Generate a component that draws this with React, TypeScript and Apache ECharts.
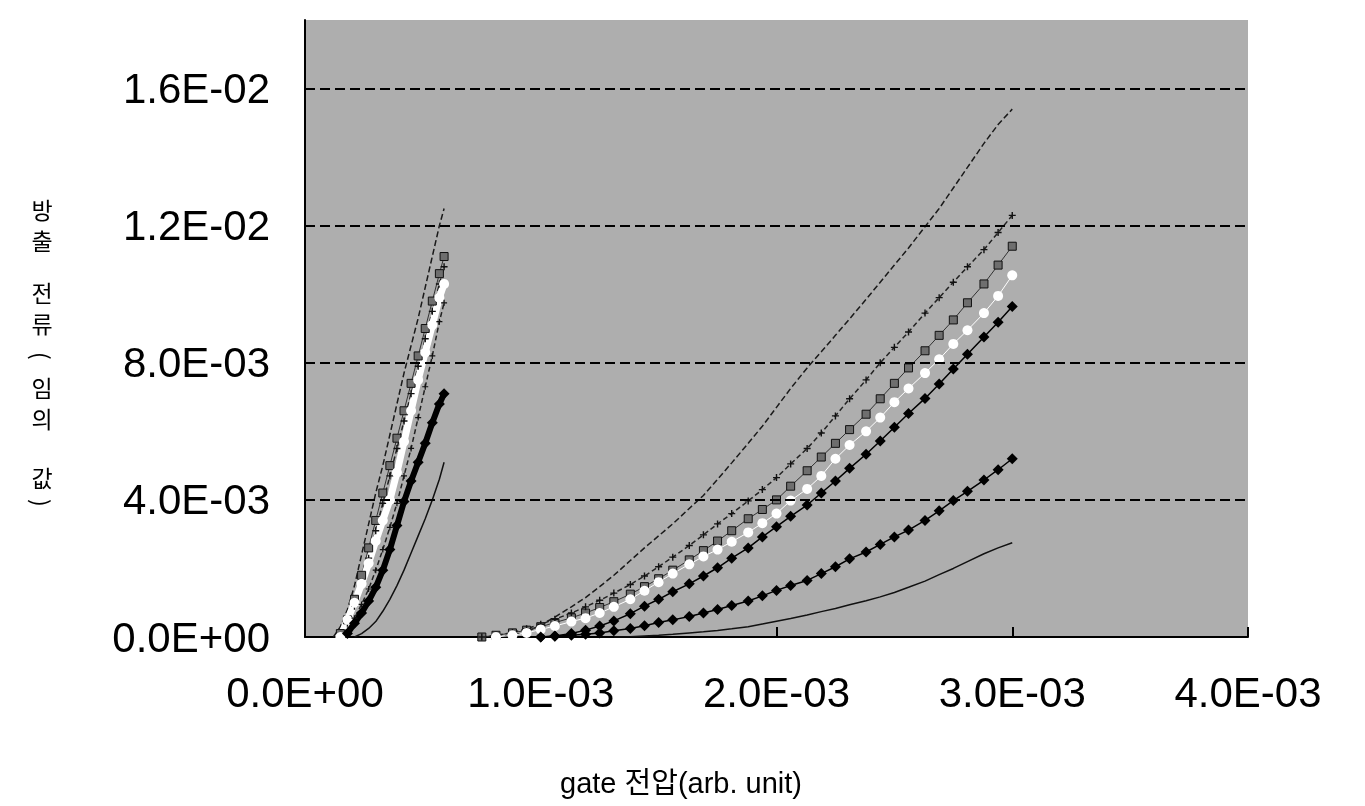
import { useEffect, useRef } from "react";
import * as echarts from "echarts";

// values in units of 1E-03 (both axes)
const xTickValues = [0, 1, 2, 3, 4];
const yTickValues = [0, 4, 8, 12, 16];
const gridLineValues = [4, 8, 12, 16];

const yTitleChars = ["방", "출", "전", "류", "(", "임", "의", "값", ")"];
const yTitleCenters = [209, 240, 292, 323, 356, 387, 418, 477, 503];
const xTitle = "gate 전압(arb. unit)";

// right group: gate voltage grid
const rightX = [0.75, 0.81, 0.88, 0.94, 1.0, 1.06, 1.13, 1.19, 1.25, 1.31, 1.38, 1.44, 1.5, 1.56, 1.63, 1.69, 1.75, 1.81, 1.88, 1.94, 2.0, 2.06, 2.13, 2.19, 2.25, 2.31, 2.38, 2.44, 2.5, 2.56, 2.63, 2.69, 2.75, 2.81, 2.88, 2.94, 3.0];
const rightA = [null, 0.0, 0.05, 0.15, 0.35, 0.58, 0.88, 1.15, 1.47, 1.8, 2.23, 2.6, 2.95, 3.3, 3.75, 4.13, 4.6, 5.08, 5.65, 6.15, 6.7, 7.25, 7.85, 8.32, 8.8, 9.28, 9.85, 10.35, 10.85, 11.35, 11.97, 12.5, 13.1, 13.7, 14.4, 14.95, 15.4];
const rightB = [0.0, 0.05, 0.13, 0.24, 0.37, 0.52, 0.7, 0.88, 1.07, 1.28, 1.53, 1.78, 2.05, 2.33, 2.67, 2.98, 3.3, 3.6, 3.97, 4.3, 4.65, 5.05, 5.5, 5.95, 6.45, 6.95, 7.5, 8.0, 8.45, 8.9, 9.45, 9.9, 10.35, 10.8, 11.3, 11.8, 12.3];
const rightC = [0.0, 0.05, 0.12, 0.2, 0.3, 0.42, 0.56, 0.7, 0.86, 1.03, 1.25, 1.47, 1.7, 1.95, 2.25, 2.52, 2.8, 3.1, 3.45, 3.72, 4.0, 4.4, 4.85, 5.25, 5.65, 6.05, 6.5, 6.95, 7.4, 7.85, 8.35, 8.8, 9.25, 9.75, 10.3, 10.85, 11.4];
const rightD = [null, 0.0, 0.05, 0.12, 0.22, 0.32, 0.45, 0.55, 0.7, 0.88, 1.1, 1.35, 1.6, 1.85, 2.12, 2.35, 2.55, 2.78, 3.05, 3.32, 3.6, 3.98, 4.32, 4.7, 5.2, 5.6, 6.0, 6.4, 6.85, 7.25, 7.7, 8.1, 8.55, 8.95, 9.45, 9.95, 10.55];
const rightE = [null, null, null, null, 0.0, 0.03, 0.1, 0.2, 0.32, 0.47, 0.68, 0.9, 1.1, 1.32, 1.55, 1.78, 2.02, 2.3, 2.6, 2.92, 3.22, 3.52, 3.85, 4.2, 4.55, 4.92, 5.33, 5.72, 6.12, 6.52, 6.96, 7.38, 7.82, 8.25, 8.75, 9.18, 9.64];
const rightG = [null, null, null, null, 0.0, 0.02, 0.05, 0.08, 0.12, 0.18, 0.25, 0.33, 0.42, 0.5, 0.6, 0.7, 0.8, 0.92, 1.05, 1.2, 1.36, 1.5, 1.65, 1.85, 2.05, 2.28, 2.48, 2.7, 2.92, 3.12, 3.4, 3.68, 3.98, 4.25, 4.58, 4.88, 5.2];
const rightH = [null, null, null, null, null, null, null, null, null, 0.0, 0.01, 0.03, 0.05, 0.08, 0.12, 0.15, 0.19, 0.24, 0.3, 0.38, 0.46, 0.54, 0.64, 0.74, 0.83, 0.94, 1.06, 1.17, 1.3, 1.45, 1.63, 1.82, 2.0, 2.2, 2.43, 2.6, 2.75];

// left group: gate voltage grid
const leftX = [0.12, 0.15, 0.18, 0.21, 0.24, 0.27, 0.3, 0.33, 0.36, 0.39, 0.42, 0.45, 0.48, 0.51, 0.54, 0.57, 0.59];
const leftA = [0.0, 0.3, 0.8, 1.5, 2.4, 3.3, 4.2, 5.0, 5.9, 6.8, 7.7, 8.5, 9.3, 10.2, 11.1, 12.0, 12.5];
const leftB = [null, 0.0, 0.4, 0.9, 1.6, 2.3, 3.1, 3.9, 4.7, 5.5, 6.3, 7.1, 7.9, 8.7, 9.5, 10.3, 10.8];
const leftC = [null, 0.1, 0.5, 1.1, 1.8, 2.6, 3.4, 4.2, 5.0, 5.8, 6.6, 7.4, 8.2, 9.0, 9.8, 10.6, 11.1];
const leftD = [null, 0.0, 0.5, 1.0, 1.55, 2.15, 2.8, 3.4, 4.0, 4.8, 5.7, 6.6, 7.5, 8.3, 9.1, 9.9, 10.3];
const leftE = [null, null, 0.2, 0.55, 0.95, 1.4, 1.95, 2.55, 3.2, 3.9, 4.7, 5.5, 6.4, 7.3, 8.2, 9.2, 9.75];
const leftG = [null, null, 0.1, 0.4, 0.7, 1.05, 1.45, 1.95, 2.55, 3.25, 3.95, 4.55, 5.1, 5.65, 6.25, 6.8, 7.1];
const leftH = [null, null, null, 0.0, 0.1, 0.25, 0.45, 0.75, 1.1, 1.5, 1.95, 2.45, 2.95, 3.45, 4.0, 4.6, 5.1];

const pairs = (xs: number[], ys: (number | null)[]) =>
  xs.map((x, i) => [x, ys[i]]).filter((p) => p[1] !== null);

const sci = (v: number) => {
  const s = (v * 1e-3).toExponential(1);
  const [m, e] = s.split("e");
  const sign = e[0] === "-" ? "-" : "+";
  const d = e.replace(/[+-]/, "").padStart(2, "0");
  return `${m}E${sign}${d}`;
};

const plusPath = "path://M4,0H6V4H10V6H6V10H4V6H0V4H4Z";

const styleA = { showSymbol: false, lineStyle: { color: "#1a1a1a", width: 1.5, type: [6, 3] } };
const styleB = { showSymbol: true, symbol: plusPath, symbolSize: 7, itemStyle: { color: "#111" }, lineStyle: { color: "#222", width: 1.5, type: [5, 3] } };
const styleC = { showSymbol: true, symbol: "rect", symbolSize: 8, itemStyle: { color: "#6e6e6e", borderColor: "#111", borderWidth: 1 }, lineStyle: { color: "#333", width: 1 } };
const styleD = { showSymbol: true, symbol: "circle", symbolSize: 10, itemStyle: { color: "#ffffff" }, lineStyle: { color: "#ffffff", width: 1 } };
const styleE = { showSymbol: true, symbol: "diamond", symbolSize: 11, itemStyle: { color: "#000" }, lineStyle: { color: "#000", width: 1.5 } };
const styleH = { showSymbol: false, lineStyle: { color: "#111", width: 1.5 } };

export default function App() {
  const ref = useRef<HTMLDivElement>(null);
  useEffect(() => {
    if (!ref.current) return;
    const chart = echarts.init(ref.current, null, { renderer: "svg" });
    const font = "'Liberation Sans', Arial, sans-serif";
    const mk = (name: string, data: any[], style: any, extra: any = {}) => ({
      type: "line",
      name,
      data,
      silent: true,
      ...style,
      ...extra,
      lineStyle: { ...style.lineStyle, ...(extra.lineStyle || {}) },
    });
    chart.setOption({
      animation: false,
      grid: {
        left: 305,
        right: 117,
        top: 20,
        bottom: 169,
        show: true,
        backgroundColor: "#aeaeae",
        borderWidth: 0,
      },
      xAxis: {
        type: "value",
        min: 0,
        max: 4,
        interval: 1,
        axisLine: { lineStyle: { color: "#000", width: 2 } },
        axisTick: { show: true, inside: true, length: 10, lineStyle: { color: "#000", width: 2 }, customValues: xTickValues },
        axisLabel: { color: "#000", fontSize: 42, fontFamily: font, margin: 34, formatter: (v: number) => sci(v), customValues: xTickValues },
        splitLine: { show: false },
      },
      yAxis: {
        type: "value",
        min: 0,
        max: 18,
        interval: 4,
        axisLine: { show: true, lineStyle: { color: "#000", width: 2 } },
        axisTick: { show: true, inside: true, length: 10, lineStyle: { color: "#000", width: 2 }, customValues: yTickValues },
        axisLabel: { color: "#000", fontSize: 42, fontFamily: font, margin: 35, formatter: (v: number) => sci(v), customValues: yTickValues },
        splitLine: { show: false },
      },
      series: [
        mk("h-right", pairs(rightX, rightH), styleH, {
          markLine: {
            silent: true,
            symbol: "none",
            label: { show: false },
            lineStyle: { color: "#000", width: 2, type: [10, 5] },
            data: gridLineValues.map((v) => ({ yAxis: v })),
          },
        }),
        mk("a-right", pairs(rightX, rightA), styleA),
        mk("g-right", pairs(rightX, rightG), styleE),
        mk("c-right", pairs(rightX, rightC), styleC),
        mk("b-right", pairs(rightX, rightB), styleB),
        mk("d-right", pairs(rightX, rightD), styleD),
        mk("e-right", pairs(rightX, rightE), styleE),
        mk("h-left", pairs(leftX, leftH), styleH),
        mk("a-left", pairs(leftX, leftA), styleA),
        mk("c-left", pairs(leftX, leftC), styleC),
        mk("b-left", pairs(leftX, leftB), styleB),
        mk("d-left", pairs(leftX, leftD), styleD, { lineStyle: { width: 7 } }),
        mk("e-left", pairs(leftX, leftE), styleB, { symbolSize: 6 }),
        mk("g-left", pairs(leftX, leftG), styleE, { lineStyle: { width: 6 } }),
      ],
      graphic: [
        ...yTitleChars.map((ch, i) => ({
          type: "text",
          x: 42,
          y: yTitleCenters[i],
          rotation: ch === "(" || ch === ")" ? -Math.PI / 2 : 0,
          style: {
            text: ch,
            fontSize: 23,
            lineHeight: 23,
            fontFamily: "'Noto Sans CJK KR', sans-serif",
            fill: "#000",
            align: "center",
            verticalAlign: "middle",
          },
        })),
        {
          type: "text",
          x: 681,
          y: 783,
          style: {
            text: xTitle,
            fontSize: 29,
            fontFamily: "'Liberation Sans', 'Noto Sans CJK KR', sans-serif",
            fill: "#000",
            align: "center",
            verticalAlign: "middle",
          },
        },
      ],
    });
    return () => chart.dispose();
  }, []);
  return <div ref={ref} style={{ position: "fixed", left: 0, top: 0, width: 1365, height: 806 }} />;
}
